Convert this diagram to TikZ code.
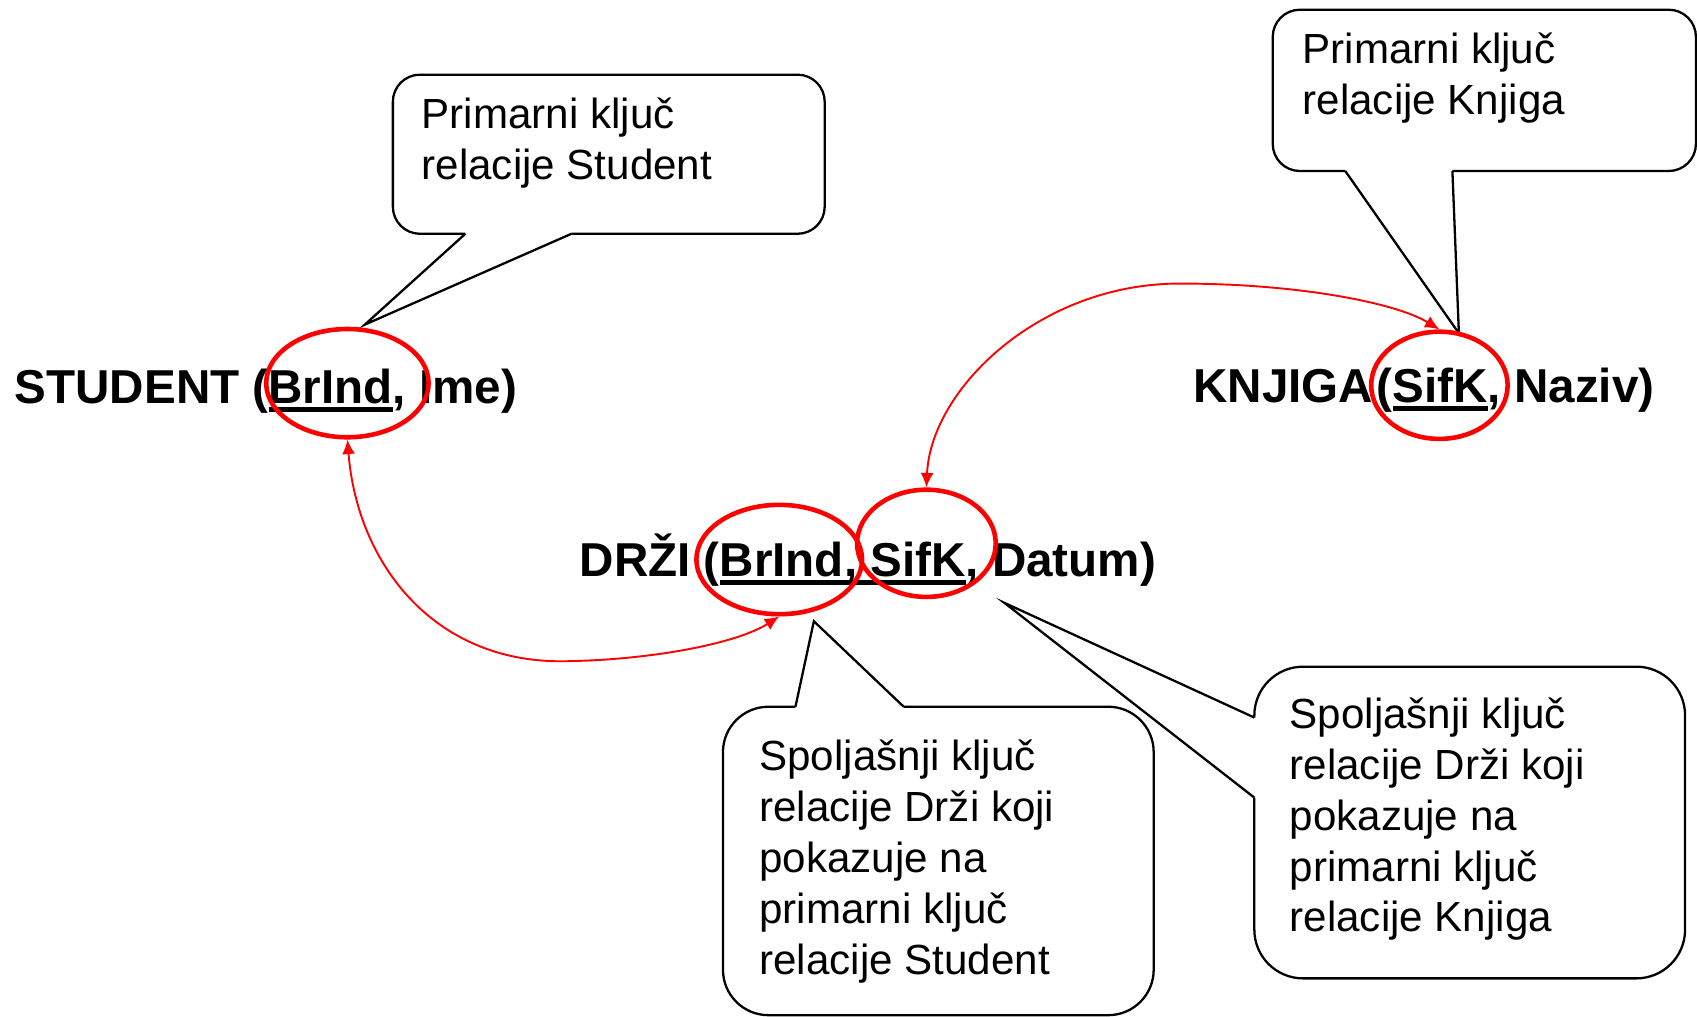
\documentclass[tikz,border=0pt]{standalone}
\usepackage{fontspec}
\setmainfont{Liberation Sans}
\usetikzlibrary{shapes.geometric,arrows.meta}

% underline used for key attributes
\newcommand\keyul[1]{\setbox0\hbox{#1}\rlap{\rule[-2.15pt]{\wd0}{1.2pt}}\box0}

\tikzset{
  relation/.style={font=\fontsize{12.5}{15}\selectfont\bfseries, inner sep=0pt, anchor=base west},
  notetext/.style={font=\fontsize{11.07}{13.37}\selectfont, inner sep=0pt, anchor=base west},
  keyring/.style={ellipse, draw=red, line width=1.2pt, inner sep=0pt},
  link/.style={draw=red, line width=0.5pt,
    {Latex[length=3.8pt,width=3.4pt]}-{Latex[length=3.8pt,width=3.4pt]}},
  bubble/.style={draw=black, line width=0.6pt, fill=white},
  tail/.style={draw=black, line width=0.6pt},
}

\begin{document}
\begin{tikzpicture}[x=0.01cm, y=-0.01cm]
\useasboundingbox (0,0) rectangle (1568,939);
\fill[white] (0,0) rectangle (1568,939);

% --- callout: primary key of Student
\draw[bubble, rounded corners=0.25cm] (363,69) rectangle (762,216);
\fill[white] (430,213) -- (430,216) -- (337,300) -- (528,216) -- (528,213) -- cycle;
\draw[tail] (430,216) -- (337,300) -- (528,216);
\node[notetext] (nStudentPK) at (389,119)
  {\vtop{\hbox{Primarni ključ}\hbox{relacije Student}}};

% --- callout: primary key of Knjiga
\draw[bubble, rounded corners=0.25cm] (1176,9) rectangle (1567,158);
\fill[white] (1243,155) -- (1243,158) -- (1348,308) -- (1342,158) -- (1342,155) -- cycle;
\draw[tail] (1243,158) -- (1348,308) -- (1342,158);
\node[notetext] (nKnjigaPK) at (1203,59)
  {\vtop{\hbox{Primarni ključ}\hbox{relacije Knjiga}}};

% --- callout: foreign key towards Student
\draw[bubble, rounded corners=0.42cm] (668,653) rectangle (1066,938);
\fill[white] (735,656) -- (735,653) -- (752,574) -- (835,653) -- (835,656) -- cycle;
\draw[tail] (735,653) -- (752,574) -- (835,653);
\node[notetext] (nFKStudent) at (701,712)
  {\vtop{\hbox{Spoljašnji ključ}\hbox{relacije Drži koji}\hbox{pokazuje na}\hbox{primarni ključ}\hbox{relacije Student}}};

% --- callout: foreign key towards Knjiga
\draw[bubble, rounded corners=0.45cm] (1159,616) rectangle (1557,904);
\fill[white] (1162,663) -- (1159,663) -- (928,557) -- (1159,737) -- (1162,737) -- cycle;
\draw[tail] (1159,663) -- (928,557) -- (1159,737);
\node[notetext] (nFKKnjiga) at (1191,673)
  {\vtop{\hbox{Spoljašnji ključ}\hbox{relacije Drži koji}\hbox{pokazuje na}\hbox{primarni ključ}\hbox{relacije Knjiga}}};

% --- relation schemas
\node[relation] (tStudent) at (13,373) {STUDENT (\keyul{BrInd}, Ime)};
\node[relation] (tKnjiga) at (1102,372) {KNJIGA\hspace{0.08em}(\keyul{SifK}, Naziv)};
\node[relation] (tDrzi) at (535,533) {DRŽI (\keyul{BrInd, SifK}, Datum)};

% --- key rings
\node[keyring, minimum width=1.50cm, minimum height=1.00cm] (rStudent) at (321,354) {};
\node[keyring, minimum width=1.53cm, minimum height=1.01cm] (rDrziA) at (720,517) {};
\node[keyring, minimum width=1.28cm, minimum height=0.99cm] (rDrziB) at (856,502) {};
\node[keyring, minimum width=1.26cm, minimum height=0.99cm] (rKnjiga) at (1330,356) {};

% --- references between keys
\coordinate (lowA) at (520,611);
\coordinate (highB) at (1090,262);
\draw[link] (rStudent.south) .. controls (330,520) and (400,612) .. (lowA)
  .. controls (600,610) and (680,595) .. (rDrziA.south);
\draw[link] (rDrziB.north) .. controls (860,360) and (960,262) .. (highB)
  .. controls (1200,262) and (1290,280) .. (rKnjiga.north);
\end{tikzpicture}
\end{document}
